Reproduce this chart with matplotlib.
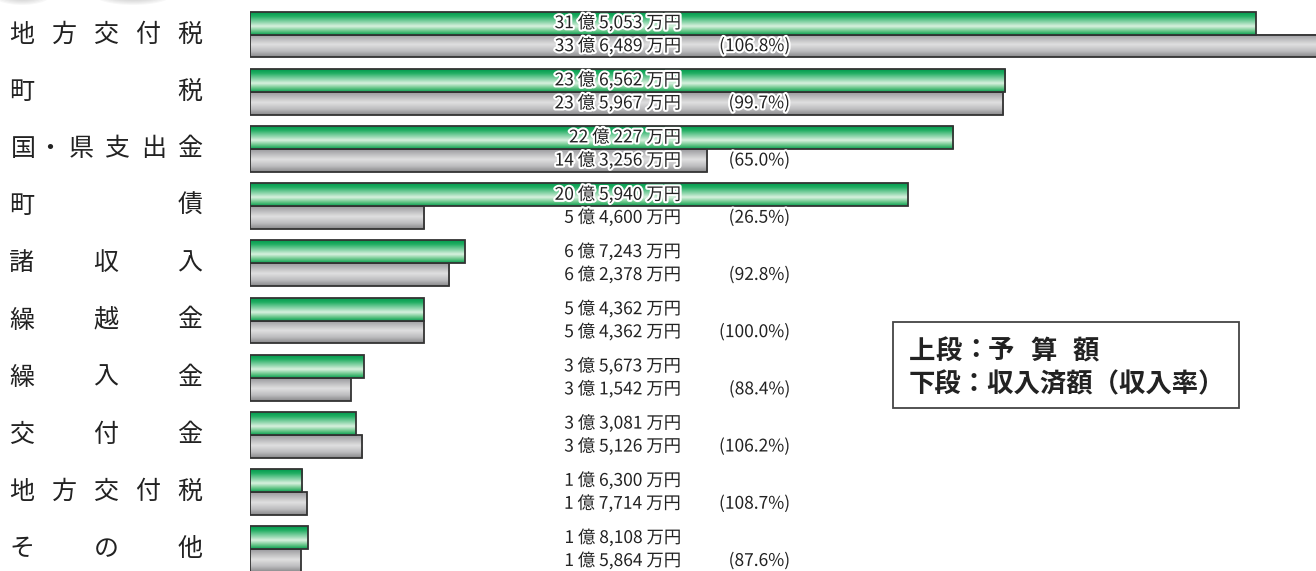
import matplotlib
matplotlib.use("Agg")
import matplotlib.pyplot as plt
import numpy as np
from matplotlib.colors import LinearSegmentedColormap
from matplotlib.patches import Rectangle, Ellipse
import matplotlib.patheffects as pe

# ---------------- data ----------------
categories = ["地方交付税", "町税", "国・県支出金", "町債", "諸収入",
              "繰越金", "繰入金", "交付金", "地方交付税", "その他"]
budget = [315053, 236562, 220227, 205940, 67243, 54362, 35673, 33081, 16300, 18108]   # 万円
received = [336489, 235967, 143256, 54600, 62378, 54362, 31542, 35126, 17714, 15864]  # 万円
rate = [106.8, 99.7, 65.0, 26.5, 92.8, 100.0, 88.4, 106.2, 108.7, 87.6]
legend_line1 = ["上", "段", "：", "予", "算", "額"]
legend_line2 = "下段：収入済額（収入率）"

# ---------------- figure ----------------
W, H = 1316, 571
fig = plt.figure(figsize=(W / 100, H / 100), dpi=100)
fig.patch.set_facecolor("white")

ROW0 = 34.5     # px centre of first row
PITCH = 57.2    # px between rows
LEFT = 250
PX_PER = 1006 / 315053
XMAX = (W - LEFT) / PX_PER

ax = fig.add_axes([LEFT / W, 0, 1 - LEFT / W, 1])
ax.set_axis_off()

def fy(px):
    return 1 - px / H

green_cmap = LinearSegmentedColormap.from_list(
    "g", [(0.0, "#009a4e"), (0.18, "#22ae63"), (0.62, "#d8f1de"), (0.85, "#5ec282"), (1.0, "#089e50")])
gray_cmap = LinearSegmentedColormap.from_list(
    "k", [(0.0, "#9a9a9e"), (0.45, "#e0e0e0"), (0.75, "#bcbcbe"), (1.0, "#88888a")])
grad = np.linspace(0, 1, 64).reshape(-1, 1)

y_idx = np.arange(len(categories))
bh = 0.4
for i in y_idx:
    for val, off, cmap in ((received[i], 0.0, gray_cmap), (budget[i], -bh, green_cmap)):
        top = i + off
        ax.imshow(grad, cmap=cmap, aspect="auto", origin="upper",
                  extent=(0, val, top + bh, top), interpolation="bilinear", zorder=2 if off else 1)
        ax.add_patch(Rectangle((0, top), val, bh, facecolor="none", edgecolor="#333333",
                               linewidth=1.3, zorder=2.5 if off else 1.5))

ax.set_xlim(0, XMAX)
ax.set_ylim((H - ROW0) / PITCH, -ROW0 / PITCH)
ax.set_aspect("auto")

# ---------------- row labels ----------------
for i, cat in enumerate(categories):
    yc = fy(ROW0 + PITCH * i)
    chars = list(cat)
    if cat == "国・県支出金":
        xs = [23, 50, 81, 117, 154, 190]
    else:
        xs = np.linspace(22, 190, len(chars))
    for ch, x in zip(chars, xs):
        fig.text(x / W, yc, ch, ha="center", va="center", fontsize=18,
                 family=["Noto Sans CJK JP", "DejaVu Sans"], color="#222222")

# ---------------- value labels ----------------
halo = [pe.withStroke(linewidth=3, foreground="white")]
vfont = ["Liberation Sans Narrow", "Noto Sans CJK JP", "DejaVu Sans"]
for i in y_idx:
    yt = fy(ROW0 + PITCH * i - 11.5)
    yb = fy(ROW0 + PITCH * i + 11.5)
    b, r = budget[i], received[i]
    fig.text(681 / W, yt, f"{b // 10000} 億 {b % 10000:,} 万円", ha="right", va="center",
             fontsize=12.5, family=vfont, color="#222222", path_effects=halo, zorder=5)
    fig.text(681 / W, yb, f"{r // 10000} 億 {r % 10000:,} 万円", ha="right", va="center",
             fontsize=12.5, family=vfont, color="#222222", path_effects=halo, zorder=5)
    fig.text(790 / W, yb, f"({rate[i]:.1f}%)", ha="right", va="center",
             fontsize=12.5, family=vfont, color="#222222", path_effects=halo, zorder=5)

# ---------------- legend box ----------------
fig.patches.append(Rectangle((893 / W, fy(408)), (1239 - 893) / W, (408 - 322) / H,
                             transform=fig.transFigure, facecolor="white",
                             edgecolor="#444444", linewidth=1.3, zorder=3))
lf = ["Noto Sans CJK JP", "DejaVu Sans"]
LFS = 19
em = LFS * 100 / 72
x0 = 909
for ch, k in zip(legend_line1, [0, 1, 2, 3, 4.6, 6.2]):
    fig.text((x0 + em * (k + 0.5)) / W, fy(351), ch, ha="center", va="center", fontsize=LFS,
             fontweight="bold", family=lf, color="#222222", zorder=4)
fig.text(x0 / W, fy(385), legend_line2, ha="left", va="center", fontsize=LFS,
         fontweight="bold", family=lf, color="#222222", zorder=4)

# ---------------- faint decorative shadows at top ----------------
for cx, w in ((22, 60), (133, 80)):
    for k in range(6):
        fig.patches.append(Ellipse((cx / W, fy(-6)), (w - 6 * k) / W, (22 - 2 * k) / H,
                                   transform=fig.transFigure, facecolor="#808080",
                                   edgecolor="none", alpha=0.06, zorder=0))

fig.savefig("out.png", dpi=100, facecolor="white")
